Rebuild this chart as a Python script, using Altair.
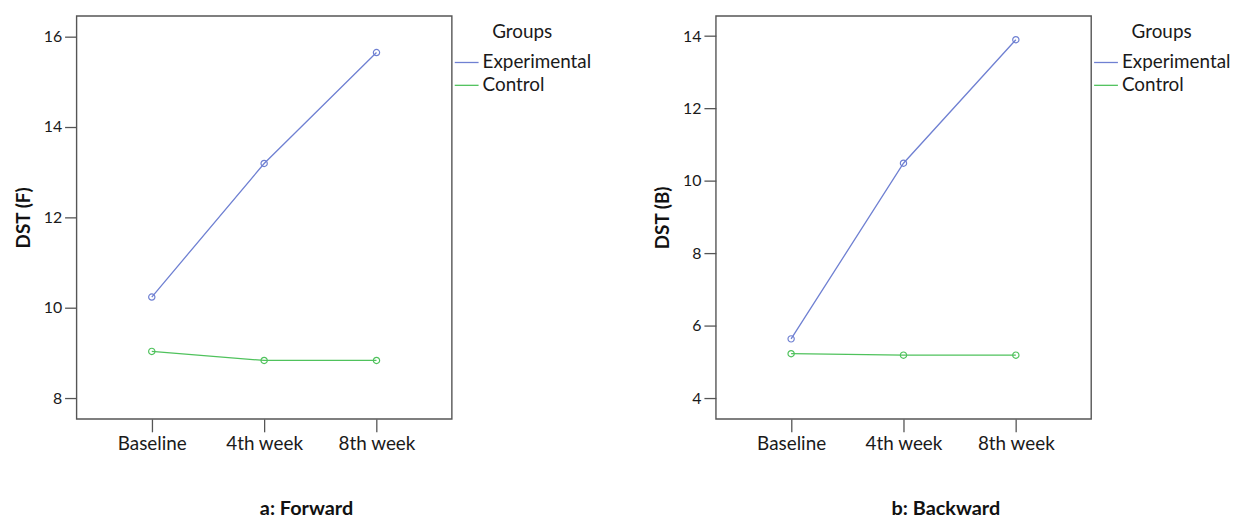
import altair as alt
import pandas as pd

weeks = ["Baseline", "4th week", "8th week"]
groups = ["Experimental", "Control"]

forward_experimental = [10.24, 13.19, 15.64]
forward_control = [9.04, 8.84, 8.84]
backward_experimental = [5.64, 10.49, 13.90]
backward_control = [5.23, 5.19, 5.19]

forward_ticks = [8, 10, 12, 14, 16]
backward_ticks = [4, 6, 8, 10, 12, 14]

BLUE = "#6f80d2"
GREEN = "#4fc25c"
FONT = "Lato"
AXIS_COLOR = "#555555"


def make_df(exp, ctrl):
    rows = []
    for w, v in zip(weeks, exp):
        rows.append({"Week": w, "Group": "Experimental", "Value": v})
    for w, v in zip(weeks, ctrl):
        rows.append({"Week": w, "Group": "Control", "Value": v})
    return pd.DataFrame(rows)


def panel(df, ytitle, domain, ticks, title):
    x = alt.X(
        "Week:N",
        sort=weeks,
        title=None,
        scale=alt.Scale(type="point", padding=0.67),
        axis=alt.Axis(
            labelAngle=0, tickSize=13, labelFontSize=19, labelPadding=3,
            domain=False, grid=False, tickColor=AXIS_COLOR, tickWidth=1.3,
            labelColor="#1a1a1a", labelFont=FONT,
        ),
    )
    y = alt.Y(
        "Value:Q",
        title=ytitle,
        scale=alt.Scale(domain=domain, nice=False, zero=False),
        axis=alt.Axis(
            values=ticks, tickSize=12, labelFontSize=16, labelPadding=3,
            domain=False, grid=False, tickColor=AXIS_COLOR, tickWidth=1.3,
            labelColor="#1a1a1a", labelFont=FONT,
            titleFontSize=19, titleFontWeight="bold", titlePadding=10,
            titleColor="#111111", titleFont=FONT,
        ),
    )
    color = alt.Color(
        "Group:N",
        sort=groups,
        scale=alt.Scale(domain=groups, range=[BLUE, GREEN]),
        legend=alt.Legend(
            title="Groups", symbolType="stroke", symbolSize=576,
            symbolStrokeWidth=1.3, labelFontSize=19, titleFontSize=19,
            titleFontWeight="normal", titleAnchor="middle", titlePadding=8,
            labelOffset=3, rowPadding=0, offset=-5, padding=7,
            labelColor="#1a1a1a", titleColor="#1a1a1a",
            labelFont=FONT, titleFont=FONT,
        ),
    )
    base = alt.Chart(df).encode(x=x, y=y, color=color)
    line = base.mark_line(strokeWidth=1.3)
    pts = base.mark_point(shape="circle", filled=False, size=40,
                          strokeWidth=1.2, opacity=1)
    return alt.layer(line, pts).properties(
        width=378,
        height=406,
        view=alt.ViewBackground(stroke=AXIS_COLOR, strokeWidth=1.4),
        title=alt.TitleParams(
            title, orient="bottom", anchor="middle", frame="bounds",
            fontSize=20, fontWeight="bold", offset=46, font=FONT,
            color="#111111",
        ),
    )


left = panel(make_df(forward_experimental, forward_control), "DST (F)",
             [7.55, 16.45], forward_ticks, "a: Forward")
right = panel(make_df(backward_experimental, backward_control), "DST (B)",
              [3.43, 14.56], backward_ticks, "b: Backward")

chart = (
    alt.hconcat(left, right, spacing=266, bounds="flush")
    .resolve_scale(color="independent", y="independent", x="independent")
    .resolve_legend(color="independent")
    .configure_view(stroke=AXIS_COLOR, strokeWidth=1.4)
    .configure(background="white")
)

chart.save("out.html", embed_options={"renderer": "svg", "actions": False})
